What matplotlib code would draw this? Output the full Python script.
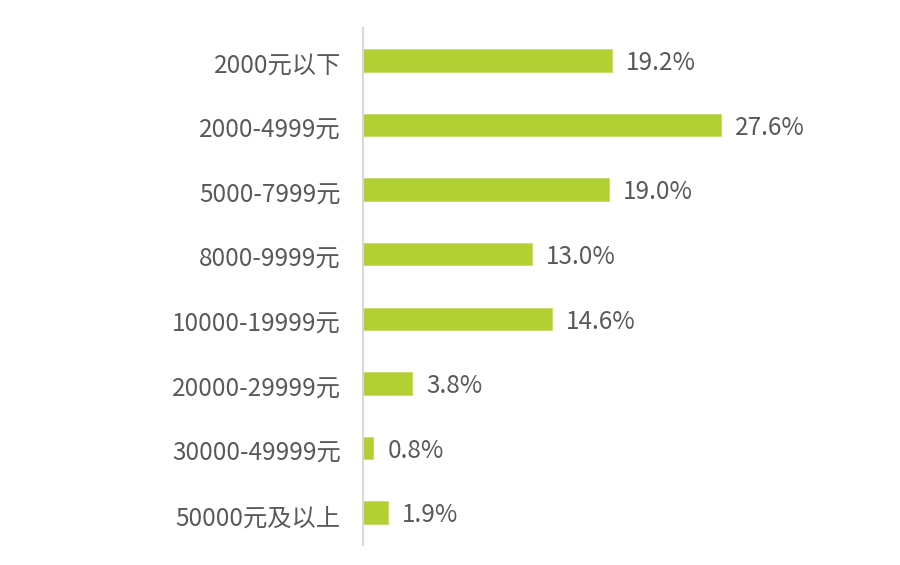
import matplotlib
matplotlib.use("Agg")
import matplotlib.pyplot as plt
from matplotlib.transforms import ScaledTranslation

categories = ["2000元以下", "2000-4999元", "5000-7999元", "8000-9999元",
              "10000-19999元", "20000-29999元", "30000-49999元", "50000元及以上"]
values = [19.2, 27.6, 19.0, 13.0, 14.6, 3.8, 0.8, 1.9]
value_labels = ["19.2%", "27.6%", "19.0%", "13.0%", "14.6%", "3.8%", "0.8%", "1.9%"]

plt.rcParams['font.family'] = ['Noto Sans CJK SC', 'DejaVu Sans']

fig = plt.figure(figsize=(9, 5.65), dpi=100)
W, H = 900, 565
left, right, top, bottom = 363, 860, 28, 545
ax = fig.add_axes([left / W, 1 - bottom / H, (right - left) / W, (bottom - top) / H])

pos = list(range(len(categories)))
ax.barh(pos, values, height=0.35, color="#B2CF33", edgecolor="#C5DB6A", linewidth=0.6)
scale = (right - left) / 12.97
ax.set_xlim(0, scale)
ax.set_ylim(len(categories) - 0.5, -0.5)

for p, v, t in zip(pos, values, value_labels):
    ax.annotate(t, (v, p), xytext=(10, -2), textcoords="offset points",
                va="center", ha="left", fontsize=17.5, color="#595959")

ax.set_yticks(pos)
ax.set_yticklabels(categories, fontsize=17.5, color="#595959")
ax.tick_params(axis="y", length=0, pad=16)
shift = ScaledTranslation(0, -2 / 72, fig.dpi_scale_trans)
for lab in ax.get_yticklabels():
    lab.set_transform(lab.get_transform() + shift)
ax.set_xticks([])
for s in ["top", "right", "bottom"]:
    ax.spines[s].set_visible(False)
ax.spines["left"].set_color("#D9D9D9")
ax.spines["left"].set_linewidth(1.5)

fig.savefig("out.png", dpi=100)
